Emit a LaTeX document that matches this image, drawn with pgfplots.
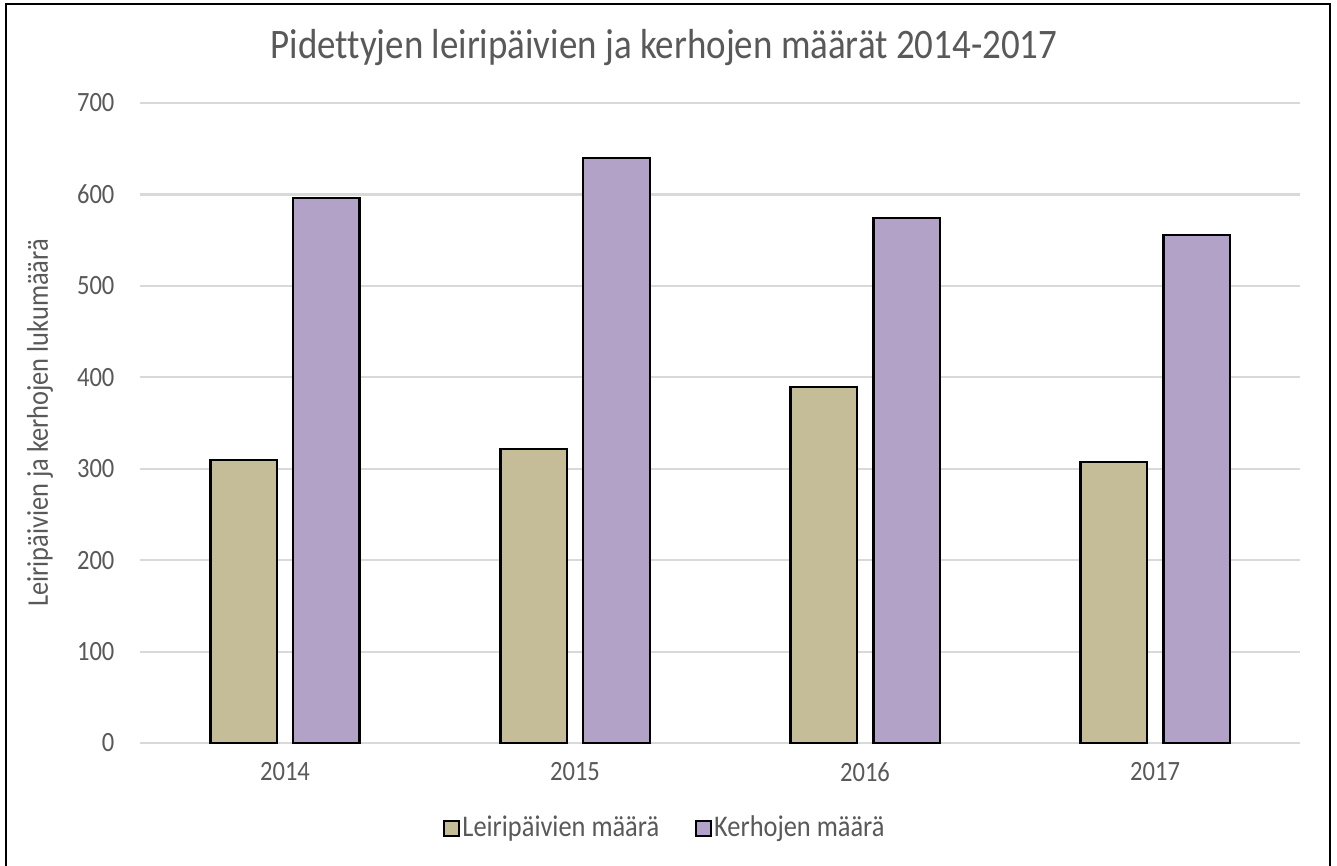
\documentclass[border=0pt]{standalone}
\usepackage{fontspec}
\setmainfont[FakeStretch=0.88,Ligatures=NoCommon]{Carlito}
\usepackage{pgfplots}
\pgfplotsset{compat=1.18}
\definecolor{txt}{HTML}{595959}
\definecolor{gridc}{HTML}{D9D9D9}
\definecolor{leiri}{HTML}{C4BD97}
\definecolor{kerho}{HTML}{B3A2C7}
\begin{document}
\begin{tikzpicture}[x=0.33333pt,y=-0.33333pt]
\useasboundingbox (0,0) rectangle (1337,866);
\fill[white] (0,0) rectangle (1337,866);
\draw[black,line width=0.8pt] (6,4) rectangle (1330,880);
\node[text=txt,font=\fontsize{14}{16}\selectfont] at (664,48) {Pidettyjen leiripäivien ja kerhojen määrät 2014-2017};
\begin{axis}[
  at={(46.667pt,-247.667pt)}, anchor=south west,
  scale only axis, width=386.67pt, height=213.33pt,
  xmin=-0.5, xmax=3.5, ymin=0, ymax=700,
  xtick={0,1,2,3}, xticklabels={2014,2015,2016,2017},
  ytick={0,100,...,700},
  ymajorgrids, xmajorgrids=false, grid style={draw=gridc, line width=0.7pt},
  axis line style={draw=none},
  major tick length=0pt,
  tick label style={text=txt, font=\fontsize{9.3}{11}\selectfont},
  /pgf/number format/assume math mode=true,
  yticklabel style={xshift=-5pt},
  xticklabel style={yshift=-3pt},
  ylabel={Leiripäivien ja kerhojen lukumäärä},
  ylabel style={text=txt, font=\fontsize{10}{12}\selectfont, at={(axis description cs:-0.0862,0.5)}, anchor=center},
  ybar, bar width=0.228,
  legend columns=2,
  legend style={at={(axis description cs:0.4525,-0.134)}, anchor=center, draw=none, fill=none,
    font=\fontsize{10}{12}\selectfont, text=txt,
    nodes={inner xsep=0.8pt},
    /tikz/every odd column/.append style={column sep=0pt},
    /tikz/every even column/.append style={column sep=11pt}},
  legend image code/.code={\draw[#1, line width=0.7pt] (0pt,-2.5pt) rectangle (5pt,2.5pt);},
  clip=false,
]
\addplot[fill=leiri, draw=black, line width=0.7pt, bar shift=-0.143] coordinates {(0,310) (1,322) (2,389) (3,307)};
\addplot[fill=kerho, draw=black, line width=0.7pt, bar shift=0.143] coordinates {(0,596) (1,640) (2,574) (3,556)};
\legend{Leiripäivien määrä, Kerhojen määrä}
\end{axis}
\end{tikzpicture}
\end{document}
